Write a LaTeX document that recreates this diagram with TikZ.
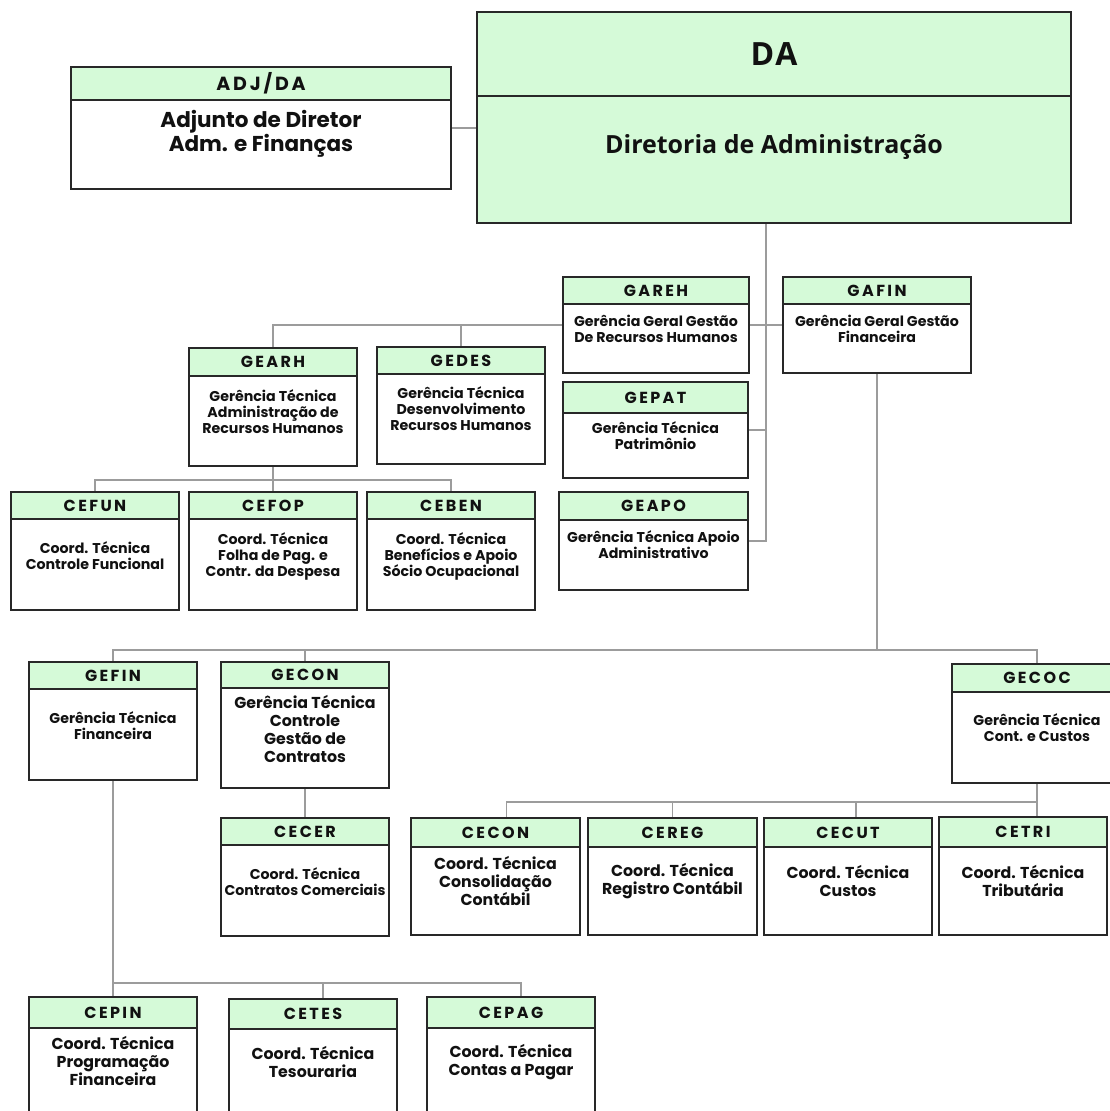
\documentclass[tikz,border=0pt]{standalone}
\usepackage{fontspec}
\usetikzlibrary{backgrounds}
\setmainfont{Poppins}
\newfontfamily\hdfont[LetterSpace=15]{Poppins}
\newfontfamily\dirfont[LetterSpace=5]{Open Sans}
\newfontfamily\dirbody{Open Sans}

\definecolor{headgreen}{RGB}{213,250,216}
\definecolor{boxline}{RGB}{40,40,40}
\definecolor{linkgray}{RGB}{156,156,156}
\definecolor{ink}{RGB}{17,17,17}

\newcommand{\largebody}{\fontsize{15.8}{18}\selectfont}

% name, x0, y0, x1, y1, header bottom, code, text y, text
\newcommand{\orgunit}[9]{%
  \node[unitbox, minimum width=#4pt-#2pt, minimum height=#5pt-#3pt] (#1) at (#2,#3) {};
  \fill[headgreen] (#2,#3) rectangle (#4,#6);
  \draw[boxedge] (#1.north west) rectangle (#1.south east);
  \draw[boxedge] (#2,#6) -- (#4,#6);
  \node[codetext] (#1-code) at ({(#2+#4)/2},{(#3+#6)/2}) {#7};
  \node[bodytext] (#1-text) at ({(#2+#4)/2},#8) {#9};
}

\tikzset{
  unitbox/.style={fill=white, anchor=north west, inner sep=0pt, outer sep=0pt},
  boxedge/.style={draw=boxline, line width=1.8pt},
  codetext/.style={font=\hdfont\bfseries\fontsize{16}{18}\selectfont, text=ink, inner sep=0pt},
  bodytext/.style={font=\bfseries\fontsize{14.2}{16}\selectfont, align=center, text=ink, inner sep=0pt},
  link/.style={draw=linkgray, line width=1.6pt},
}

\begin{document}
\begin{tikzpicture}[x=1pt,y=-1pt]
\useasboundingbox (0,0) rectangle (1109,1111);

% bus lines
\coordinate (spine) at (766,0);
\coordinate (rhbus) at (0,480);
\coordinate (finbus) at (0,650);
\coordinate (ccbus) at (0,802);
\coordinate (pgbus) at (0,983);

%Top level
\begin{scope}[codetext/.append style={font=\hdfont\bfseries\fontsize{19}{21}\selectfont},
  bodytext/.append style={font=\bfseries\fontsize{21.5}{24}\selectfont}]
\orgunit{adj}{71}{67}{451}{189}{100}{ADJ/DA}{134}{Adjunto de Diretor\\Adm. e Finanças}
\end{scope}
\begin{scope}[unitbox/.append style={fill=headgreen},
  codetext/.append style={font=\dirfont\bfseries\fontsize{32}{34}\selectfont},
  bodytext/.append style={font=\dirbody\bfseries\fontsize{25}{28}\selectfont}]
\orgunit{da}{477}{12}{1071}{223}{96}{DA}{147}{Diretoria de Administração}
\end{scope}

%Gerencias gerais
\orgunit{gareh}{563}{277}{749}{373}{304}{GAREH}{329}{Gerência Geral Gestão\\De Recursos Humanos}
\orgunit{gafin}{783}{277}{971}{373}{304}{GAFIN}{329}{Gerência Geral Gestão\\Financeira}

%Gerencias tecnicas RH
\orgunit{gearh}{189}{348}{357}{466}{376}{GEARH}{412}{Gerência Técnica\\Administração de\\Recursos Humanos}
\orgunit{gedes}{377}{347}{545}{464}{374}{GEDES}{409}{Gerência Técnica\\Desenvolvimento\\Recursos Humanos}
\orgunit{gepat}{563}{382}{748}{478}{413}{GEPAT}{436}{Gerência Técnica\\Patrimônio}
\orgunit{geapo}{559}{492}{748}{590}{520}{GEAPO}{545}{Gerência Técnica Apoio\\Administrativo}

%Coordenacoes RH
\orgunit{cefun}{11}{492}{179}{610}{519}{CEFUN}{556}{Coord. Técnica\\Controle Funcional}
\orgunit{cefop}{189}{492}{357}{610}{519}{CEFOP}{556}{Coord. Técnica\\Folha de Pag. e\\Contr. da Despesa}
\orgunit{ceben}{367}{492}{535}{610}{519}{CEBEN}{556}{Coord. Técnica\\Benefícios e Apoio\\Sócio Ocupacional}

%Gerencias tecnicas financeiras
\orgunit{gefin}{29}{662}{197}{780}{689}{GEFIN}{726}{Gerência Técnica\\Financeira}
\orgunit{gecoc}{952}{664}{1122}{783}{692}{GECOC}{728}{Gerência Técnica\\Cont. e Custos}
\orgunit{cecer}{221}{818}{389}{936}{845}{CECER}{882}{Coord. Técnica\\Contratos Comerciais}

%Units with larger text
\begin{scope}[bodytext/.append style={font=\bfseries\largebody}]
\orgunit{gecon}{221}{662}{389}{788}{688}{GECON}{729}{Gerência Técnica\\Controle\\Gestão de\\Contratos}
\orgunit{cecon}{411}{818}{580}{935}{847}{CECON}{881}{Coord. Técnica\\Consolidação\\Contábil}
\orgunit{cereg}{588}{818}{757}{935}{847}{CEREG}{881}{Coord. Técnica\\Registro Contábil}
\orgunit{cecut}{764}{818}{932}{935}{847}{CECUT}{881}{Coord. Técnica\\Custos}
\orgunit{cetri}{939}{817}{1107}{935}{847}{CETRI}{881}{Coord. Técnica\\Tributária}
\orgunit{cepin}{29}{997}{197}{1125}{1028}{CEPIN}{1061}{Coord. Técnica\\Programação\\Financeira}
\orgunit{cetes}{229}{999}{397}{1125}{1029}{CETES}{1062}{Coord. Técnica\\Tesouraria}
\orgunit{cepag}{427}{997}{595}{1125}{1028}{CEPAG}{1062}{Coord. Técnica\\Contas a Pagar}
\end{scope}

%Connectors
\begin{scope}[on background layer]
\draw[link] (adj.east) -- (adj.east -| da.west);
\draw[link] (da.south -| spine) |- (geapo.east);
\draw[link] (gepat.east) -- (gepat.east -| spine);
\draw[link] (gareh.east) -- (gafin.west);
\draw[link] (gareh.west) -| (gearh.north);
\draw[link] (gedes.north) -- (gedes.north |- gareh.west);
\draw[link] (gearh.south) -- (gearh.south |- rhbus);
\draw[link] (cefun.north) |- (ceben.north |- rhbus) -- (ceben.north);
\draw[link] (cefop.north) -- (cefop.north |- rhbus);
\draw[link] (gafin.south) -- (gafin.south |- finbus);
\draw[link] (gefin.north) |- (gecoc.north |- finbus) -- (gecoc.north);
\draw[link] (gecon.north) -- (gecon.north |- finbus);
\draw[link] (gecon.south) -- (cecer.north);
\draw[link] (gecoc.south) -- (gecoc.south |- cetri.north);
\draw[link] ([xshift=11]cecon.north) |- (gecoc.south |- ccbus);
\draw[link] (cereg.north) -- (cereg.north |- ccbus);
\draw[link] ([xshift=8]cecut.north) -- ([xshift=8]cecut.north |- ccbus);
\draw[link] (gefin.south) -- (cepin.north);
\draw[link] (gefin.south |- pgbus) -- ([xshift=10]cepag.north |- pgbus) -- ([xshift=10]cepag.north);
\draw[link] ([xshift=10]cetes.north) -- ([xshift=10]cetes.north |- pgbus);
\end{scope}
\end{tikzpicture}
\end{document}
